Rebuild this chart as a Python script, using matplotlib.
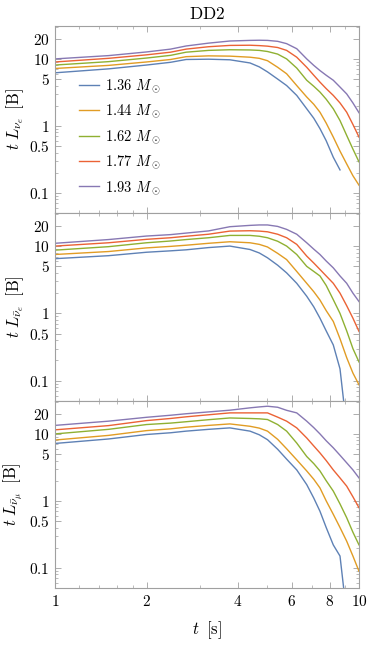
import numpy as np
import matplotlib
matplotlib.use("Agg")
import matplotlib.pyplot as plt
from matplotlib.ticker import FixedLocator, LogLocator, NullFormatter

plt.rcParams['mathtext.fontset'] = 'cm'
plt.rcParams['font.family'] = ['cmr10', 'DejaVu Serif']
plt.rcParams['axes.unicode_minus'] = False

# time grid [s]
t = [1, 1.5, 2, 2.4, 2.7, 3.2, 3.76, 4.38, 4.7, 5.0, 5.4, 5.78, 6.24, 6.73,
     7.1, 7.44, 7.8, 8.23, 8.66, 9.11, 9.55, 10]
nan = np.nan

masses = ["1.36", "1.44", "1.62", "1.77", "1.93"]
colors = ["#5E81B5", "#E19C24", "#8FB032", "#EB6235", "#8778B3"]

# t * L_nu_e [B]
nue = [
    [6.2, 7.1, 8.1, 8.9, 9.8, 9.9, 9.7, 8.7, 7.6, 6.4, 5.0, 4.0, 2.85, 1.8,
     1.3, 0.91, 0.6, 0.34, 0.22, nan, nan, nan],
    [7.2, 8.0, 9.0, 9.8, 10.8, 11.1, 11.0, 10.6, 10.2, 9.4, 7.5, 6.0, 4.0, 2.7,
     2.1, 1.6, 1.1, 0.68, 0.42, 0.27, 0.18, 0.13],
    [8.1, 9.1, 10.3, 11.3, 12.6, 13.4, 13.7, 13.6, 13.4, 12.9, 11.8, 10.0, 7.3, 4.8,
     3.9, 3.2, 2.5, 1.8, 1.2, 0.72, 0.45, 0.29],
    [9.0, 10.2, 11.5, 12.6, 14.0, 15.2, 15.9, 16.0, 15.8, 15.5, 14.8, 13.4, 10.6, 7.5,
     5.7, 4.5, 3.6, 2.85, 2.2, 1.6, 1.05, 0.68],
    [10.0, 11.2, 12.7, 14.0, 15.6, 17.2, 18.5, 18.9, 19.0, 18.9, 18.3, 16.9, 14.2, 10.0,
     8.0, 6.7, 5.7, 4.8, 3.8, 3.0, 2.2, 1.57],
]

# t * L_anti-nu_e [B]
anue = [
    [6.5, 7.2, 8.1, 8.5, 8.8, 9.5, 10.0, 8.9, 7.9, 6.7, 5.2, 4.0, 2.8, 1.8,
     1.25, 0.85, 0.55, 0.34, 0.15, 0.02, nan, nan],
    [7.5, 8.3, 9.4, 9.9, 10.3, 11.0, 11.6, 11.2, 10.6, 9.7, 7.8, 6.3, 4.2, 2.8,
     2.1, 1.58, 1.1, 0.76, 0.42, 0.22, 0.13, 0.087],
    [8.7, 9.8, 11.2, 11.9, 12.5, 13.3, 14.4, 14.4, 14.0, 13.3, 11.8, 10.0, 7.5, 5.0,
     4.2, 3.6, 2.6, 1.6, 1.0, 0.55, 0.3, 0.19],
    [10.0, 11.2, 12.6, 13.3, 14.0, 15.0, 16.7, 16.9, 16.7, 16.3, 15.0, 13.3, 10.6, 7.1,
     5.6, 4.5, 3.6, 2.8, 2.0, 1.3, 0.85, 0.54],
    [11.0, 12.5, 14.1, 14.8, 15.6, 16.8, 19.4, 20.3, 20.6, 20.6, 19.6, 17.7, 15.0, 11.2,
     9.0, 7.5, 6.0, 4.75, 3.6, 2.8, 2.0, 1.5],
]

# t * L_anti-nu_mu [B]
anumu = [
    [7.2, 8.4, 9.8, 10.4, 11.0, 11.7, 12.3, 11.0, 9.7, 8.2, 5.9, 4.2, 2.9, 1.75,
     1.1, 0.70, 0.40, 0.22, 0.15, 0.02, nan, nan],
    [8.1, 9.5, 11.2, 11.9, 12.6, 13.4, 14.1, 13.0, 12.2, 11.0, 8.3, 6.0, 4.1, 2.8,
     2.1, 1.56, 1.0, 0.63, 0.40, 0.25, 0.15, 0.089],
    [10.0, 11.7, 13.8, 14.5, 15.2, 16.3, 17.3, 17.0, 16.8, 16.4, 13.8, 11.0, 7.3, 4.6,
     3.6, 2.8, 2.0, 1.4, 0.9, 0.56, 0.34, 0.22],
    [11.5, 13.3, 15.8, 17.0, 18.0, 19.3, 20.6, 20.6, 20.6, 20.6, 17.8, 15.5, 12.3, 8.7,
     6.6, 5.2, 4.0, 2.9, 2.2, 1.66, 1.15, 0.79],
    [13.4, 15.5, 17.7, 19.0, 20.0, 21.3, 22.6, 24.5, 25.3, 25.9, 25.0, 22.5, 20.6, 15.5,
     12.4, 10.0, 7.9, 6.2, 4.8, 3.7, 2.9, 2.2],
]

panels = [nue, anue, anumu]
ylabels = [r'$t\;L_{\nu_e}\;\;[\mathrm{B}]$',
           r'$t\;L_{\bar{\nu}_e}\;\;[\mathrm{B}]$',
           r'$t\;L_{\bar{\nu}_\mu}\;\;[\mathrm{B}]$']
yticks = [0.1, 0.5, 1, 5, 10, 20]
xticks = [1, 2, 4, 6, 8, 10]

fig = plt.figure(figsize=(3.74, 6.47), dpi=100)
W, H = 374.0, 647.0
left, right = 55, 359
edges = [26, 213, 401, 588]
frame_col = "#a0a0a0"

axes = []
for i, data in enumerate(panels):
    top, bot = edges[i], edges[i + 1]
    ax = fig.add_axes([left / W, 1 - bot / H, (right - left) / W, (bot - top) / H])
    for j, series in enumerate(data):
        ax.plot(t, series, color=colors[j], lw=1.0,
                label=r'$%s\ M_\odot$' % masses[j])
    ax.set_xscale('log')
    ax.set_yscale('log')
    ax.set_xlim(1, 10)
    ax.set_ylim(0.05, 31)
    ax.yaxis.set_major_locator(FixedLocator(yticks))
    ax.set_yticklabels([r'$%g$' % v for v in yticks], fontsize=11)
    ax.yaxis.set_minor_locator(LogLocator(base=10, subs=np.arange(2, 10)))
    ax.yaxis.set_minor_formatter(NullFormatter())
    ax.xaxis.set_major_locator(FixedLocator(xticks))
    ax.xaxis.set_minor_locator(FixedLocator([1.2, 1.4, 1.6, 1.8, 3, 5, 7, 9]))
    ax.xaxis.set_minor_formatter(NullFormatter())
    if i == 2:
        ax.set_xticklabels([r'$%g$' % v for v in xticks], fontsize=11)
        ax.set_xlabel(r'$t\;\;[\mathrm{s}]$', fontsize=12, labelpad=8)
    else:
        ax.set_xticklabels([])
    ax.tick_params(which='both', direction='in', top=True, right=True,
                   color=frame_col, labelcolor='black')
    ax.tick_params(which='major', length=4, width=0.6, pad=4)
    ax.tick_params(which='minor', length=2.2, width=0.5)
    for s in ax.spines.values():
        s.set_color(frame_col)
        s.set_linewidth(0.8)
    ax.set_ylabel(ylabels[i], fontsize=12)
    ax.yaxis.set_label_coords(-0.095, 0.5)
    axes.append(ax)

axes[0].set_title(r'$\mathrm{DD2}$', fontsize=12.5, pad=5)
axes[0].legend(loc='upper left', bbox_to_anchor=(0.06, 0.755), frameon=False,
               fontsize=10.5, handlelength=1.4, handletextpad=0.4,
               labelspacing=0.55, borderaxespad=0)

fig.savefig("out.png", dpi=100)
